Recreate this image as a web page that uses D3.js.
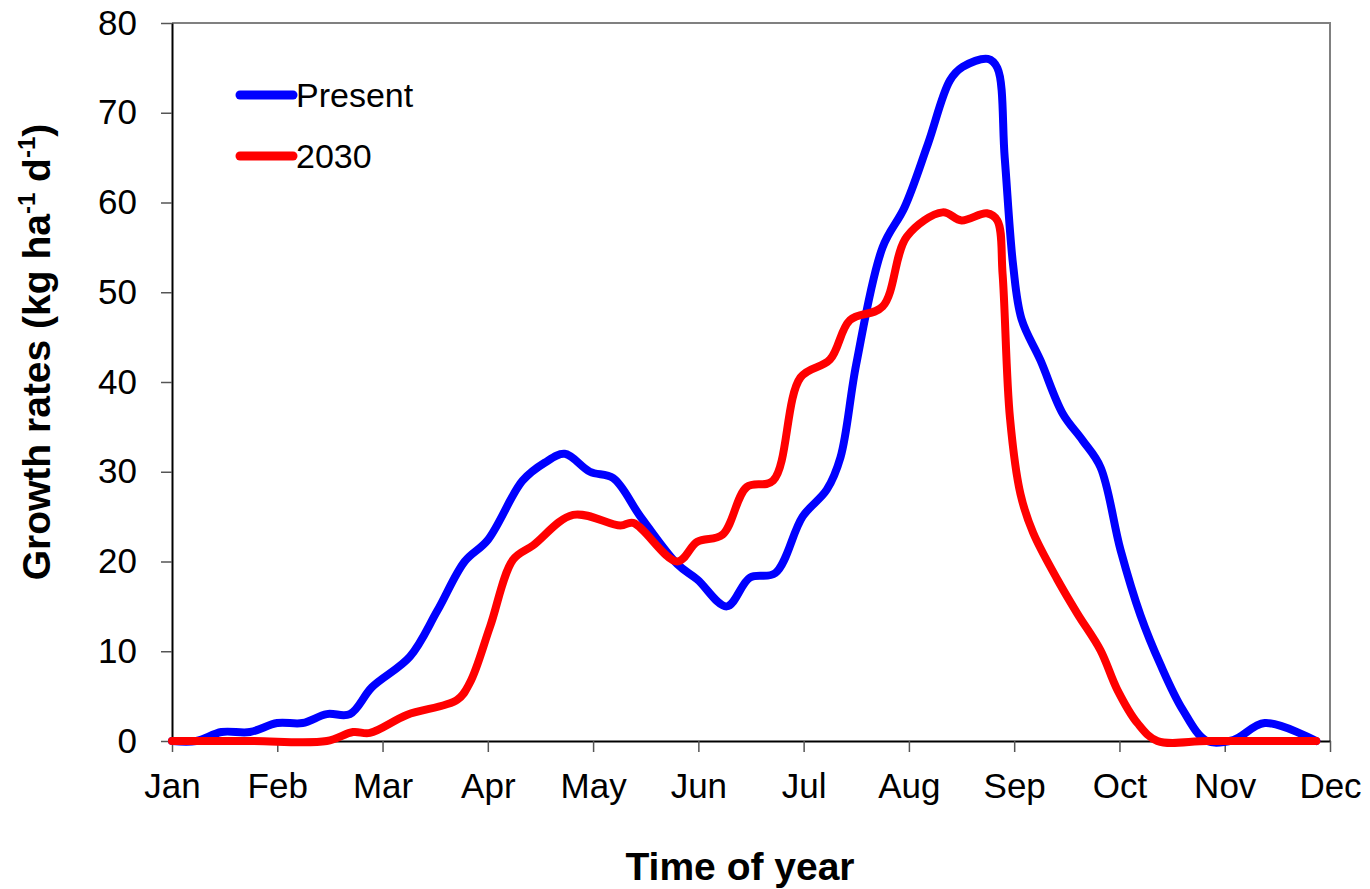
<!DOCTYPE html>
<html>
<head>
<meta charset="utf-8">
<script src="https://cdn.jsdelivr.net/npm/d3@7"></script>
<style>
  body { margin: 0; background: #fff; }
  text { font-family: Arial, "Liberation Sans", sans-serif; fill: #000; }
</style>
</head>
<body>
<div id="chart"></div>
<script>
// month index: 0 = Jan ... 11 = Dec
var months = ["Jan", "Feb", "Mar", "Apr", "May", "Jun", "Jul", "Aug", "Sep", "Oct", "Nov", "Dec"];
var yTicks = [0, 10, 20, 30, 40, 50, 60, 70, 80];
var seriesNames = ["Present", "2030"];

var presentMonth = [0, 0.23, 0.47, 0.74, 1.00, 1.24, 1.47, 1.69, 1.90, 2.26, 2.52, 2.78, 3.00, 3.33, 3.54, 3.73,
  3.97, 4.19, 4.45, 4.80, 4.99, 5.27, 5.49, 5.73, 5.99, 6.22, 6.35, 6.50, 6.75, 6.96, 7.18, 7.39, 7.51, 7.75,
  7.84, 7.91, 7.99, 8.07, 8.25, 8.46, 8.65, 8.82, 9.01, 9.20, 9.39, 9.60, 9.83, 10.08, 10.38, 10.87];
var presentRate = [0, 0, 1, 1, 2, 2, 3, 3, 6, 9.4, 14.5, 20, 22.4, 29, 31, 32,
  30, 29.3, 25, 19.7, 18, 15, 18.2, 18.7, 25, 28, 31.6, 42, 55, 59.5, 66.5, 73.6, 75.1, 76,
  75, 65, 53, 47, 42.4, 36.5, 33.5, 30.5, 21.3, 14, 8.5, 3.5, 0, 0.1, 2, 0];

var futureMonth = [0, 0.74, 1.47, 1.72, 1.88, 2.23, 2.71, 2.83, 3.02, 3.24, 3.43, 3.81, 4.26, 4.38, 4.80, 4.99,
  5.23, 5.46, 5.71, 5.97, 6.25, 6.44, 6.75, 6.98, 7.32, 7.50, 7.74, 7.84, 7.89, 7.96, 8.06, 8.18, 8.41,
  8.60, 8.82, 8.98, 9.17, 9.36, 9.83, 10.38, 10.87];
var futureRate = [0, 0, 0, 1, 0.9, 2.9, 4.6, 6.5, 12.7, 20.2, 21.8, 25.2, 24, 24.3, 20, 22.2,
  23, 28.3, 29, 40.5, 42.5, 46.9, 48.4, 56.2, 58.9, 58, 58.8, 58, 52, 36, 27.5, 23.2, 18,
  14.2, 10.1, 5.7, 2, 0, 0, 0, 0];

var width = 1370, height = 889;
var plotLeft = 172, plotRight = 1330, plotTop = 23, plotBottom = 741;

var svg = d3.select("#chart").append("svg")
  .attr("width", width)
  .attr("height", height);

var x = d3.scaleLinear().domain([0, 11]).range([plotLeft, plotRight]);
var y = d3.scaleLinear().domain([0, 80]).range([plotBottom, plotTop]);

// plot frame: top and right in grey
svg.append("path")
  .attr("d", "M" + plotLeft + "," + plotTop + "H" + plotRight + "V" + plotBottom)
  .attr("fill", "none")
  .attr("stroke", "#808080")
  .attr("stroke-width", 2);

var xAxis = svg.append("g")
  .attr("transform", "translate(0," + plotBottom + ")")
  .call(d3.axisBottom(x)
    .tickValues(d3.range(months.length))
    .tickFormat(function (i) { return months[i]; })
    .tickSize(11)
    .tickSizeOuter(0)
    .tickPadding(21));
xAxis.select(".domain").attr("stroke", "#000").attr("stroke-width", 2);
xAxis.selectAll(".tick line").attr("stroke", "#555").attr("stroke-width", 1.5);
xAxis.selectAll(".tick text").attr("font-size", "35px").attr("fill", "#000");

var yAxis = svg.append("g")
  .attr("transform", "translate(" + plotLeft + ",0)")
  .call(d3.axisLeft(y)
    .tickValues(yTicks)
    .tickSize(11)
    .tickSizeOuter(0)
    .tickPadding(24));
yAxis.select(".domain").attr("stroke", "#000").attr("stroke-width", 2);
yAxis.selectAll(".tick line").attr("stroke", "#555").attr("stroke-width", 1.5);
yAxis.selectAll(".tick text").attr("font-size", "35px").attr("fill", "#000");

var line = d3.line()
  .x(function (d) { return x(d[0]); })
  .y(function (d) { return y(d[1]); })
  .curve(d3.curveCatmullRom.alpha(0.5));

var series = [
  { name: seriesNames[0], color: "#0000ff", pts: d3.zip(presentMonth, presentRate) },
  { name: seriesNames[1], color: "#ff0000", pts: d3.zip(futureMonth, futureRate) }
];

svg.selectAll(".series")
  .data(series)
  .enter()
  .append("path")
  .attr("class", "series")
  .attr("d", function (d) { return line(d.pts); })
  .attr("fill", "none")
  .attr("stroke", function (d) { return d.color; })
  .attr("stroke-width", 8)
  .attr("stroke-linejoin", "round")
  .attr("stroke-linecap", "round");

// legend
var legend = svg.selectAll(".legend")
  .data(series)
  .enter()
  .append("g")
  .attr("class", "legend")
  .attr("transform", function (d, i) { return "translate(237," + (95 + i * 61) + ")"; });

legend.append("line")
  .attr("x1", 3).attr("x2", 56)
  .attr("stroke", function (d) { return d.color; })
  .attr("stroke-width", 9)
  .attr("stroke-linecap", "round");

legend.append("text")
  .attr("x", 59)
  .attr("dy", "0.36em")
  .attr("font-size", "34px")
  .text(function (d) { return d.name; });

// axis titles
svg.append("text")
  .attr("x", 740)
  .attr("y", 880)
  .attr("text-anchor", "middle")
  .attr("font-size", "39px")
  .attr("font-weight", "bold")
  .text("Time of year");

var yTitle = svg.append("text")
  .attr("transform", "translate(50,352) rotate(-90)")
  .attr("text-anchor", "middle")
  .attr("font-size", "39px")
  .attr("font-weight", "bold");
yTitle.append("tspan").text("Growth rates (kg ha");
yTitle.append("tspan").attr("font-size", "24px").attr("dy", -15).text("-1");
yTitle.append("tspan").attr("dy", 15).text(" d");
yTitle.append("tspan").attr("font-size", "24px").attr("dy", -15).text("-1");
yTitle.append("tspan").attr("dy", 15).text(")");
</script>
</body>
</html>
